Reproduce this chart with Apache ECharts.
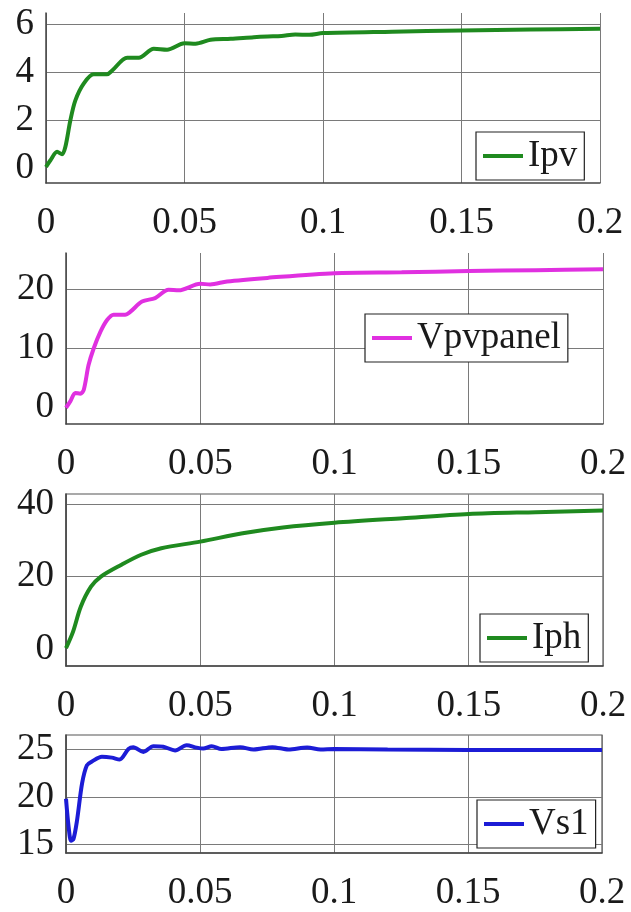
<!DOCTYPE html>
<html>
<head>
<meta charset="utf-8">
<script src="https://cdn.jsdelivr.net/npm/echarts@6/dist/echarts.min.js"></script>
<style>
  html, body { margin: 0; padding: 0; background: #fff; }
  #main { width: 631px; height: 912px; }
</style>
</head>
<body>
<div id="main"></div>
<script>
// time axis ticks
var xTicks = [0, 0.05, 0.1, 0.15, 0.2];

// Ipv
var tIpv = [0, 0.0016, 0.004, 0.0058, 0.007, 0.0088, 0.0106, 0.0136, 0.0172, 0.022, 0.0239, 0.0293, 0.0335, 0.0389, 0.0437, 0.05, 0.054, 0.0594, 0.0667, 0.075, 0.08, 0.085, 0.09, 0.095, 0.1, 0.125, 0.15, 0.175, 0.2];
var vIpv = [0.05, 0.33, 0.68, 0.58, 0.89, 2.0, 2.83, 3.53, 3.92, 3.92, 4.08, 4.61, 4.61, 4.99, 4.95, 5.22, 5.2, 5.36, 5.4, 5.47, 5.5, 5.52, 5.58, 5.57, 5.64, 5.70, 5.75, 5.79, 5.82];

// Vpvpanel
var tVpv = [0, 0.0016, 0.0035, 0.0053, 0.0066, 0.0084, 0.0103, 0.0128, 0.0153, 0.0177, 0.022, 0.024, 0.0283, 0.0332, 0.0382, 0.042, 0.05, 0.0537, 0.06, 0.075, 0.1, 0.125, 0.15, 0.175, 0.2];
var vVpv = [0, 1.07, 2.5, 2.36, 3.0, 7.2, 10.0, 12.8, 14.8, 15.7, 15.7, 16.2, 17.9, 18.5, 19.9, 19.8, 20.9, 20.8, 21.3, 21.9, 22.7, 22.85, 23.06, 23.2, 23.35];

// Iph
var tIph = [0, 0.0026, 0.0055, 0.0093, 0.013, 0.0205, 0.028, 0.0355, 0.05, 0.0658, 0.0808, 0.1, 0.1255, 0.15, 0.175, 0.2];
var vIph = [0.3, 4.8, 11.7, 17.2, 20.0, 23.2, 26.0, 27.8, 29.6, 31.9, 33.5, 34.8, 36.05, 37.2, 37.7, 38.15];

// Vs1
var tVs1 = [0, 0.001, 0.0019, 0.0028, 0.0041, 0.006, 0.0078, 0.0097, 0.0134, 0.0171, 0.02, 0.0233, 0.0251, 0.0289, 0.0326, 0.0363, 0.0407, 0.045, 0.0487, 0.0512, 0.0544, 0.058, 0.065, 0.07, 0.077, 0.083, 0.09, 0.095, 0.1, 0.12, 0.15, 0.175, 0.2];
var vVs1 = [19.8, 16.8, 15.4, 15.6, 17.5, 21.4, 23.3, 23.7, 24.2, 24.1, 23.9, 25.0, 25.2, 24.7, 25.3, 25.25, 24.85, 25.4, 25.15, 25.05, 25.3, 25.0, 25.2, 24.95, 25.2, 24.95, 25.15, 24.95, 25.0, 24.95, 24.9, 24.9, 24.9];

// y tick labels per panel
var yLabels = [[0, 2, 4, 6], [0, 10, 20], [0, 20, 40], [15, 20, 25]];
var yRange = [[-0.62, 6.48], [-2.74, 26.1], [-4.6, 42.7], [14.12, 26.47]];

var names = ['Ipv', 'Vpvpanel', 'Iph', 'Vs1'];
var colors = ['#1f8a1f', '#e030e0', '#1f8a1f', '#1c1cd6'];
var times = [tIpv, tVpv, tIph, tVs1];
var values = [vIpv, vVpv, vIph, vVs1];

var font = 'Liberation Serif, Times New Roman, serif';
var gridColor = '#7a7a7a';
// no horizontal grid line at 0 in the first three panels
var yGridColors = [
    ['rgba(0,0,0,0)', gridColor, gridColor, gridColor],
    ['rgba(0,0,0,0)', gridColor, gridColor],
    ['rgba(0,0,0,0)', gridColor, gridColor],
    [gridColor]
];
var grids = [
    {left: 46, right: 31, top: 13, height: 170, show: false},
    {left: 66, right: 28, top: 253, height: 171, show: false},
    {left: 66, right: 28, top: 494, height: 172, show: true, borderColor: '#555', borderWidth: 1.2},
    {left: 66, right: 29, top: 735, height: 118, show: true, borderColor: '#555', borderWidth: 1.2}
];
var legendPos = [
    {left: 476, top: 132},
    {left: 365, top: 314},
    {left: 480, top: 614},
    {left: 477, top: 800}
];

var xAxes = [], yAxes = [], series = [], legends = [];
for (var i = 0; i < 4; i++) {
    xAxes.push({
        type: 'value', gridIndex: i, min: xTicks[0], max: xTicks[xTicks.length - 1], interval: 0.05,
        axisLine: {onZero: false, lineStyle: {color: '#444', width: 1.5}},
        axisTick: {show: false},
        axisLabel: {margin: 22, fontSize: 37, fontFamily: font, color: '#1a1a1a', showMinLabel: true, showMaxLabel: true},
        splitLine: {show: true, lineStyle: {color: gridColor, width: 1}}
    });
    yAxes.push({
        type: 'value', gridIndex: i, min: yRange[i][0], max: yRange[i][1],
        axisLine: {show: true, onZero: false, lineStyle: {color: '#444', width: 1.5}},
        axisTick: {show: false, customValues: yLabels[i]},
        axisLabel: {margin: 12, fontSize: 37, fontFamily: font, color: '#1a1a1a', customValues: yLabels[i]},
        splitLine: {show: true, lineStyle: {color: yGridColors[i], width: 1}}
    });
    var pts = [];
    for (var j = 0; j < times[i].length; j++) {
        pts.push([times[i][j], values[i][j]]);
    }
    series.push({
        name: names[i], type: 'line', xAxisIndex: i, yAxisIndex: i,
        data: pts, symbol: 'none', smooth: 0.3,
        lineStyle: {color: colors[i], width: 4},
        itemStyle: {color: colors[i]}
    });
    legends.push({
        data: [names[i]], left: legendPos[i].left, top: legendPos[i].top,
        icon: 'rect', itemWidth: 40, itemHeight: 4,
        padding: [4, 7], borderColor: '#222', borderWidth: 1.2, backgroundColor: '#fff',
        textStyle: {fontSize: 37, fontFamily: font, color: '#1a1a1a', lineHeight: 40}
    });
}

var myChart = echarts.init(document.getElementById('main'));
myChart.setOption({
    animation: false,
    backgroundColor: '#fff',
    grid: grids,
    xAxis: xAxes,
    yAxis: yAxes,
    legend: legends,
    series: series
});
</script>
</body>
</html>
